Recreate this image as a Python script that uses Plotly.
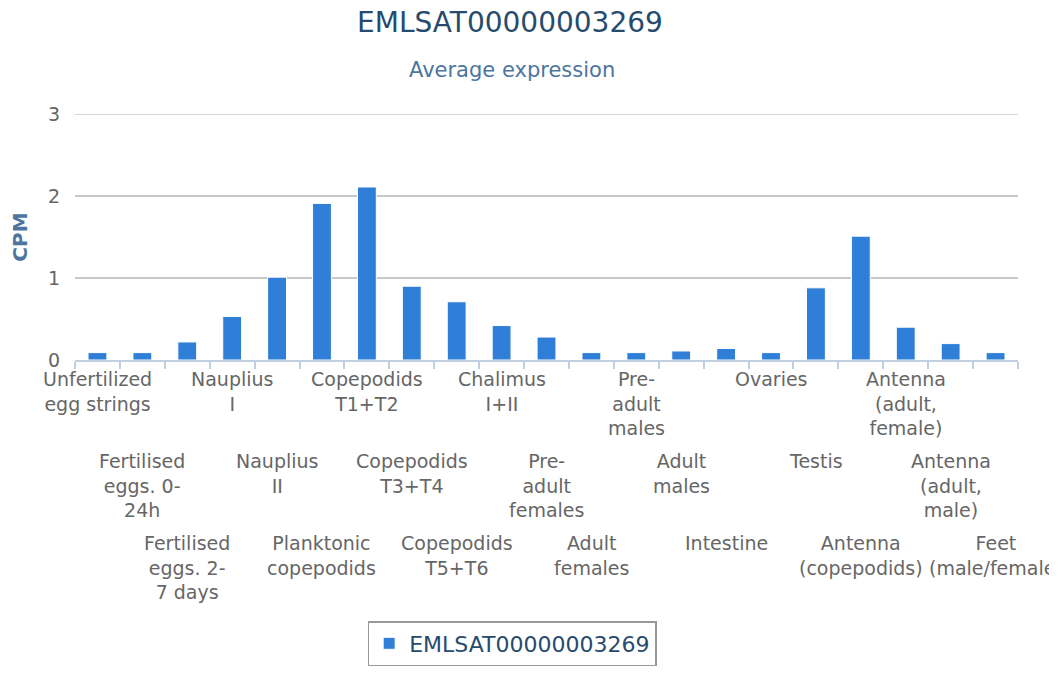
import plotly.graph_objects as go

categories = [
    "Unfertilized<br>egg strings", "Fertilised<br>eggs. 0-<br>24h", "Fertilised<br>eggs. 2-<br>7 days",
    "Nauplius<br>I", "Nauplius<br>II", "Planktonic<br>copepodids",
    "Copepodids<br>T1+T2", "Copepodids<br>T3+T4", "Copepodids<br>T5+T6",
    "Chalimus<br>I+II", "Pre-<br>adult<br>females", "Adult<br>females",
    "Pre-<br>adult<br>males", "Adult<br>males", "Intestine",
    "Ovaries", "Testis", "Antenna<br>(copepodids)",
    "Antenna<br>(adult,<br>female)", "Antenna<br>(adult,<br>male)", "Feet<br>(male/female)",
]
cpm = [0.09, 0.09, 0.22, 0.53, 1.01, 1.91, 2.11, 0.90, 0.71, 0.42, 0.28,
       0.09, 0.09, 0.11, 0.14, 0.09, 0.88, 1.51, 0.40, 0.20, 0.09]
yticks = [0, 1, 2, 3]

font = "DejaVu Sans"
# page body has an 8px margin, so everything is placed 8px up/left
off = 8
fig = go.Figure()
fig.add_bar(x=categories, y=cpm, name="EMLSAT00000003269", width=0.42,
            marker=dict(color="#2f7ed8", line=dict(color="#ffffff", width=1)))

# staggered category labels, 3 rows like highcharts
for i, c in enumerate(categories):
    fig.add_annotation(x=c, y=0, xref="x", yref="y", text=c, showarrow=False,
                       yanchor="top", xanchor="center", yshift=-6 - 82 * (i % 3),
                       font=dict(family=font, size=19, color="#666666"))

fig.add_annotation(x=(510 - 71) / 947, y=(360 - 70) / 246, xref="paper", yref="paper",
                   text="Average expression", showarrow=False, yanchor="middle",
                   font=dict(family=font, size=21, color="#4d759e"))

# top gridline sits on the plot edge, plotly drops it there
fig.add_shape(type="line", xref="paper", x0=0, x1=1, yref="y", y0=yticks[-1], y1=yticks[-1],
              line=dict(color="#c8c8c8", width=1.5), layer="below")

fig.update_layout(
    width=1057, height=673,
    margin=dict(l=71 - off, r=1057 - 1018 + off, t=114 - off, b=673 - 360 + off),
    paper_bgcolor="white", plot_bgcolor="white",
    font=dict(family=font, color="#666666"),
    title=dict(text="EMLSAT00000003269", x=(510 - off) / 1057, xanchor="center",
               y=1 - (22 - off) / 673, yanchor="middle",
               font=dict(family=font, size=28, color="#274b6d")),
    bargap=0.58,
    showlegend=True,
    legend=dict(x=(510 - 71) / 947, xanchor="center", y=(360 - 621) / 246, yanchor="top",
                orientation="h", bordercolor="#999999", borderwidth=1.5,
                font=dict(family=font, size=22, color="#274b6d")),
)
fig.update_xaxes(showticklabels=False, tickson="boundaries", ticks="outside", ticklen=7,
                 tickcolor="#C0D0E0", tickwidth=1.5, showline=True, linecolor="#C0D0E0",
                 linewidth=2, showgrid=False, range=[-0.5, 20.5])
fig.update_yaxes(range=[0, 3], tickvals=yticks, showgrid=True, gridcolor="#c8c8c8",
                 gridwidth=1.5, zeroline=False, ticklabelstandoff=14,
                 tickfont=dict(family=font, size=19, color="#666666"),
                 title=dict(text="<b>CPM</b>", standoff=14,
                            font=dict(family=font, size=20, color="#4d759e")))
fig.write_html("out.html")
